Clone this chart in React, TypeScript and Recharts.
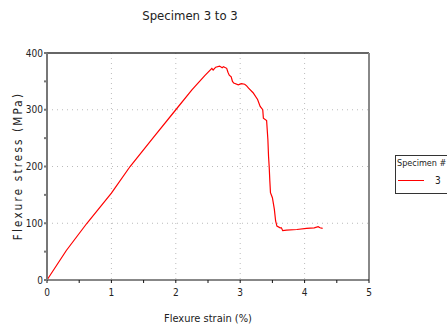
import { CartesianGrid, Label, Line, LineChart, ReferenceLine, XAxis, YAxis } from "recharts";

// Flexure test, specimen 3
const strain = [
  0, 0.3, 0.62, 1.0, 1.29, 1.65, 2.0, 2.25, 2.45, 2.56, 2.58, 2.62, 2.68, 2.72, 2.74,
  2.79, 2.81, 2.83, 2.86, 2.88, 2.9, 2.97, 3.02, 3.07, 3.1, 3.13, 3.2, 3.27, 3.31,
  3.35, 3.36, 3.41, 3.43, 3.44, 3.45, 3.46, 3.47, 3.5, 3.53, 3.55, 3.57, 3.62, 3.64,
  3.66, 3.72, 3.88, 4.03, 4.15, 4.21, 4.24, 4.28,
];
const stress = [
  0, 52, 100, 153, 200, 251, 300, 335, 360, 373, 370, 375, 377, 374, 376,
  373, 366, 361, 358, 350, 347, 344, 346, 345, 342, 338, 330, 318, 306,
  300, 285, 281, 247, 218, 200, 175, 154, 145, 125, 104, 95, 92, 92,
  87, 88, 89, 91, 92, 94, 92, 91,
];
const xTicks = [0, 0.5, 1, 1.5, 2, 2.5, 3, 3.5, 4, 4.5, 5];
const yTicks = [0, 50, 100, 150, 200, 250, 300, 350, 400];
const specimen = "3";

const data = strain.map((s, i) => ({ strain: s, stress: stress[i] }));

const FONT = "'DejaVu Sans Condensed', 'DejaVu Sans', sans-serif";
const tickStyle = { fill: "#222", fontSize: 10, fontFamily: FONT };

function YTitle({ viewBox }: any) {
  const x = (viewBox?.x ?? 0) + 18;
  const y = 166;
  return (
    <text
      x={x}
      y={y}
      transform={`rotate(-90 ${x} ${y})`}
      textAnchor="middle"
      dominantBaseline="central"
      fill="#222"
      style={{ fontSize: 11.5, fontFamily: FONT, letterSpacing: 2.2 }}
    >
      Flexure stress (MPa)
    </text>
  );
}

// legend sits against the right edge of the page, like the original
function LegendBox() {
  return (
    <div
      style={{
        position: "absolute",
        left: 395,
        top: 155,
        width: 53,
        height: 39,
        border: "1px solid #333",
        background: "#fff",
        fontFamily: FONT,
        fontSize: 9,
        color: "#222",
        boxSizing: "border-box",
        whiteSpace: "nowrap",
      }}
    >
      <div style={{ padding: "2px 0 0 1px" }}>Specimen #</div>
      <div style={{ display: "flex", alignItems: "center", marginTop: 7 }}>
        <span style={{ display: "inline-block", width: 26, height: 1, background: "#ff0000", marginLeft: 2 }} />
        <span style={{ marginLeft: 11, fontSize: 10 }}>{specimen}</span>
      </div>
    </div>
  );
}

export default function App() {
  return (
    <div style={{ position: "absolute", left: 0, top: 0, width: 447, height: 324, overflow: "hidden", background: "#fff" }}>
      <div
        style={{
          position: "absolute",
          left: 0,
          width: 380,
          top: 8,
          textAlign: "center",
          fontFamily: FONT,
          fontSize: 13,
          color: "#222",
        }}
      >
        Specimen 3 to 3
      </div>
      <LineChart width={447} height={324} data={data} margin={{ top: 53, right: 78, bottom: 0, left: 0 }}>
        <CartesianGrid
          stroke="#bbb"
          strokeDasharray="1 4"
          horizontalValues={[100, 200, 300]}
          verticalValues={[1, 2, 3, 4]}
        />
        <XAxis
          dataKey="strain"
          type="number"
          domain={[0, 5]}
          ticks={xTicks}
          interval={0}
          tickFormatter={(v: number) => (Number.isInteger(v) ? String(v) : "")}
          tick={tickStyle}
          tickSize={3}
          tickMargin={6}
          stroke="#111"
          height={44}
        >
          <Label
            value="Flexure strain (%)"
            position="insideBottom"
            offset={2}
            style={{ fill: "#222", fontSize: 11, fontFamily: FONT }}
          />
        </XAxis>
        <YAxis
          type="number"
          domain={[0, 400]}
          ticks={yTicks}
          interval={0}
          tickFormatter={(v: number) => (v % 100 === 0 ? String(v) : "")}
          tick={tickStyle}
          tickSize={3}
          tickMargin={1}
          stroke="#777"
          strokeWidth={2}
          width={47}
        >
          <Label content={<YTitle />} />
        </YAxis>
        <ReferenceLine y={400} stroke="#333" strokeWidth={1.5} />
        <ReferenceLine x={5} stroke="#888" strokeWidth={2} />
        <Line
          type="linear"
          dataKey="stress"
          stroke="#ff0000"
          strokeWidth={1.2}
          dot={false}
          isAnimationActive={false}
        />
      </LineChart>
      <LegendBox />
    </div>
  );
}
